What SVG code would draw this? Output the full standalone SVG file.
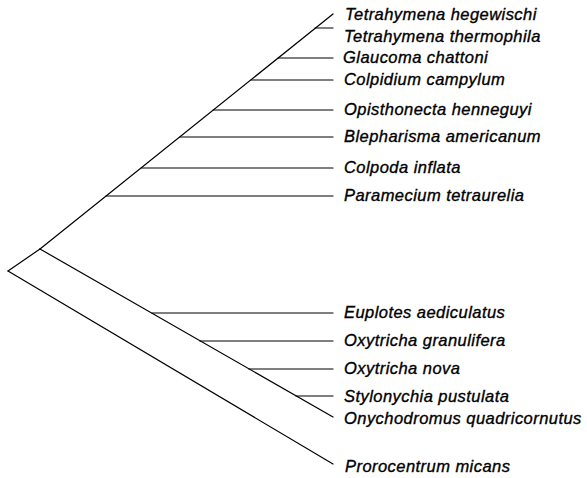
<svg xmlns="http://www.w3.org/2000/svg" width="587" height="478" viewBox="0 0 587 478">
<style>
.e{stroke:#000;stroke-width:1.2;fill:none;stroke-linecap:round}
.t{font-family:"Liberation Sans",Arial,sans-serif;font-style:italic;font-size:16.5px;letter-spacing:0.45px;fill:#000;stroke:#000;stroke-width:0.35}
</style>
<rect width="587" height="478" fill="#fff"/>
<g id="connectors">
<line class="e" x1="8" y1="271" x2="40" y2="249"/>
<line class="e" x1="40" y1="249" x2="333" y2="14"/>
<line class="e" x1="315" y1="28" x2="333" y2="28"/>
<line class="e" x1="278" y1="58" x2="333" y2="58"/>
<line class="e" x1="251" y1="80" x2="333" y2="80"/>
<line class="e" x1="213" y1="110" x2="333" y2="110"/>
<line class="e" x1="180" y1="137" x2="333" y2="137"/>
<line class="e" x1="141" y1="168" x2="333" y2="168"/>
<line class="e" x1="106" y1="196" x2="333" y2="196"/>
<line class="e" x1="40" y1="249" x2="333" y2="417"/>
<line class="e" x1="152" y1="313" x2="333" y2="313"/>
<line class="e" x1="200" y1="341" x2="333" y2="341"/>
<line class="e" x1="249" y1="369" x2="333" y2="369"/>
<line class="e" x1="296" y1="396" x2="333" y2="396"/>
<line class="e" x1="8" y1="271" x2="333" y2="464"/>
</g>
<g id="n1"><text class="t" x="345" y="20">Tetrahymena hegewischi</text></g>
<g id="n2"><text class="t" x="344" y="42">Tetrahymena thermophila</text></g>
<g id="n3"><text class="t" x="343" y="63">Glaucoma chattoni</text></g>
<g id="n4"><text class="t" x="344" y="85">Colpidium campylum</text></g>
<g id="n5"><text class="t" x="344" y="115">Opisthonecta henneguyi</text></g>
<g id="n6"><text class="t" x="344" y="142">Blepharisma americanum</text></g>
<g id="n7"><text class="t" x="344" y="173">Colpoda inflata</text></g>
<g id="n8"><text class="t" x="344" y="201">Paramecium tetraurelia</text></g>
<g id="n9"><text class="t" x="344" y="318">Euplotes aediculatus</text></g>
<g id="n10"><text class="t" x="344" y="346">Oxytricha granulifera</text></g>
<g id="n11"><text class="t" x="344" y="374">Oxytricha nova</text></g>
<g id="n12"><text class="t" x="344" y="402">Stylonychia pustulata</text></g>
<g id="n13"><text class="t" x="344" y="424">Onychodromus quadricornutus</text></g>
<g id="n14"><text class="t" x="345" y="472">Prorocentrum micans</text></g>
</svg>
